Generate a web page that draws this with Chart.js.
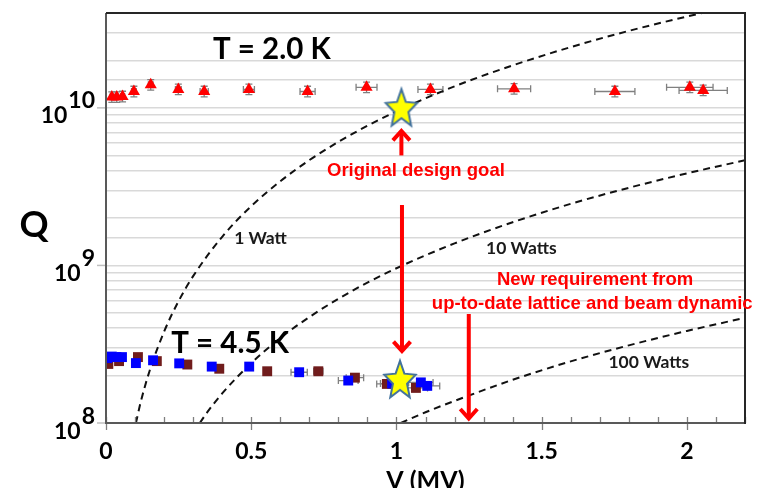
<!DOCTYPE html>
<html>
<head>
<meta charset="utf-8">
<script src="https://cdn.jsdelivr.net/npm/chart.js@4.4.1/dist/chart.umd.min.js"></script>
<style>
  html, body { margin: 0; padding: 0; background: #fff; overflow: hidden; }
  canvas { display: block; }
</style>
</head>
<body>
<canvas id="chart" width="770" height="488"></canvas>
<script>
// ---- Q0 vs accelerating voltage ----

// T = 2.0 K run (V in MV, Q0, horizontal error in MV, relative Q error)
const v2K  = [0.020, 0.037, 0.057, 0.096, 0.154, 0.249, 0.338, 0.492, 0.694, 0.897, 1.117, 1.405, 1.752, 2.010, 2.056];
const q2K  = [1.17e10, 1.17e10, 1.18e10, 1.27e10, 1.40e10, 1.31e10, 1.27e10, 1.31e10, 1.27e10, 1.35e10, 1.31e10, 1.32e10, 1.27e10, 1.35e10, 1.29e10];
const dv2K = [0.006, 0.006, 0.007, 0.008, 0.008, 0.010, 0.014, 0.019, 0.026, 0.036, 0.043, 0.057, 0.069, 0.080, 0.083];
const dq2K = [0.08, 0.08, 0.08, 0.08, 0.08, 0.08, 0.08, 0.08, 0.08, 0.08, 0.08, 0.08, 0.08, 0.08, 0.08];

// T = 4.5 K, first run (blue)
const v45a  = [0.004, 0.020, 0.036, 0.055, 0.103, 0.162, 0.252, 0.364, 0.493, 0.665, 0.834, 0.985, 1.084, 1.106];
const q45a  = [2.58e8, 2.64e8, 2.62e8, 2.62e8, 2.40e8, 2.50e8, 2.39e8, 2.28e8, 2.28e8, 2.10e8, 1.86e8, 1.78e8, 1.81e8, 1.72e8];
const dv45a = [0.003, 0.003, 0.003, 0.003, 0.005, 0.006, 0.008, 0.010, 0.012, 0.028, 0.034, 0.040, 0.042, 0.043];

// T = 4.5 K, second run (dark red)
const v45b  = [0.008, 0.045, 0.110, 0.175, 0.280, 0.390, 0.555, 0.731, 0.857, 0.967, 1.067];
const q45b  = [2.37e8, 2.47e8, 2.62e8, 2.47e8, 2.35e8, 2.21e8, 2.13e8, 2.13e8, 1.94e8, 1.77e8, 1.67e8];
const dv45b = [0.003, 0.003, 0.004, 0.005, 0.007, 0.009, 0.012, 0.016, 0.030, 0.035, 0.040];

// design targets
const goalV = [1.017, 1.012];
const goalQ = [9.8e9, 1.85e8];

// constant cryogenic-load lines
const v1W   = [0.103, 0.12, 0.15, 0.2, 0.25, 0.3, 0.4, 0.5, 0.6, 0.7, 0.8, 0.9, 1.0, 1.2, 1.4, 1.6, 1.8, 2.0, 2.06];
const q1W   = [1.0e8, 1.37e8, 2.14e8, 3.8e8, 5.94e8, 8.55e8, 1.52e9, 2.38e9, 3.42e9, 4.66e9, 6.08e9, 7.7e9, 9.5e9, 1.37e10, 1.86e10, 2.43e10, 3.08e10, 3.8e10, 4.03e10];
const v10W  = [0.323, 0.35, 0.4, 0.5, 0.6, 0.7, 0.8, 0.9, 1.0, 1.2, 1.4, 1.6, 1.8, 2.0, 2.2];
const q10W  = [1.0e8, 1.18e8, 1.54e8, 2.4e8, 3.46e8, 4.7e8, 6.14e8, 7.78e8, 9.6e8, 1.38e9, 1.88e9, 2.46e9, 3.11e9, 3.84e9, 4.65e9];
const v100W = [1.015, 1.1, 1.2, 1.4, 1.6, 1.8, 2.0, 2.2];
const q100W = [1.0e8, 1.17e8, 1.38e8, 1.88e8, 2.46e8, 3.11e8, 3.84e8, 4.65e8];

// axis labelling
const xLabelled = [0, 0.5, 1, 1.5, 2];
const yDecades  = [1e8, 1e9, 1e10];

// text notes anchored in data space (V, Q at the text centre)
const notes = [
  { text: 'T = 2.0 K', v: 0.571, q: 2.38e10, kind: 'temp' },
  { text: 'T = 4.5 K', v: 0.427, q: 3.23e8, kind: 'temp' },
  { text: '1 Watt', v: 0.532, q: 1.49e9, kind: 'load' },
  { text: '10 Watts', v: 1.43, q: 1.30e9, kind: 'load' },
  { text: '100 Watts', v: 1.869, q: 2.45e8, kind: 'load' },
  { text: 'Original design goal', v: 1.067, q: 4.09e9, kind: 'red' },
  { text: 'New requirement from', v: 1.684, q: 8.32e8, kind: 'red' },
  { text: 'up-to-date lattice and beam dynamic', v: 1.674, q: 5.8e8, kind: 'red' }
];

// arrows: V position, start Q, tip Q
const arrows = [
  { v: 1.017, from: 4.99e9, to: 7.3e9 },
  { v: 1.019, from: 2.42e9, to: 2.8e8 },
  { v: 1.249, from: 4.92e8, to: 1.045e8 }
];

const pts = (xs, ys) => xs.map((x, i) => ({ x: x, y: ys[i] }));

// five-pointed star marker
const starMarker = (() => {
  const R = 16.5, sy = 1.22, inner = 0.45;
  const c = document.createElement('canvas');
  c.width = 40; c.height = 48;
  const g = c.getContext('2d');
  const cx = c.width / 2, cy = c.height / 2;
  g.beginPath();
  for (let i = 0; i < 10; i++) {
    const a = -Math.PI / 2 + i * Math.PI / 5;
    const r = i % 2 === 0 ? R : R * inner;
    const px = cx + r * Math.cos(a), py = cy + sy * r * Math.sin(a);
    if (i === 0) g.moveTo(px, py); else g.lineTo(px, py);
  }
  g.closePath();
  g.fillStyle = '#ffff00';
  g.fill();
  g.lineWidth = 2;
  g.lineJoin = 'miter';
  g.strokeStyle = '#41719c';
  g.stroke();
  return c;
})();

const errorSeries = [
  { v: v2K, q: q2K, dv: dv2K, dq: dq2K },
  { v: v45b, q: q45b, dv: dv45b },
  { v: v45a, q: q45a, dv: dv45a }
];

const errorBars = {
  id: 'errorBars',
  beforeDatasetsDraw(chart) {
    const { ctx, scales: { x, y } } = chart;
    ctx.save();
    ctx.strokeStyle = '#808080';
    ctx.lineWidth = 1.3;
    const cap = 3.5;
    errorSeries.forEach(s => {
      s.v.forEach((v, i) => {
        const py = y.getPixelForValue(s.q[i]);
        const px = x.getPixelForValue(v);
        const pl = x.getPixelForValue(v - s.dv[i]);
        const pr = x.getPixelForValue(v + s.dv[i]);
        ctx.beginPath();
        ctx.moveTo(pl, py); ctx.lineTo(pr, py);
        ctx.moveTo(pl, py - cap); ctx.lineTo(pl, py + cap);
        ctx.moveTo(pr, py - cap); ctx.lineTo(pr, py + cap);
        if (s.dq) {
          const pt = y.getPixelForValue(s.q[i] * (1 + s.dq[i]));
          const pb = y.getPixelForValue(s.q[i] / (1 + s.dq[i]));
          ctx.moveTo(px, pt); ctx.lineTo(px, pb);
          ctx.moveTo(px - cap, pt); ctx.lineTo(px + cap, pt);
          ctx.moveTo(px - cap, pb); ctx.lineTo(px + cap, pb);
        }
        ctx.stroke();
      });
    });
    ctx.restore();
  }
};

function drawArrow(ctx, x, y1, y2) {
  const dir = y2 > y1 ? 1 : -1;
  ctx.beginPath();
  ctx.moveTo(x, y1);
  ctx.lineTo(x, y2 - dir * 2);
  ctx.stroke();
  ctx.beginPath();
  ctx.moveTo(x - 8.5, y2 - dir * 11);
  ctx.lineTo(x, y2 - dir * 1.5);
  ctx.lineTo(x + 8.5, y2 - dir * 11);
  ctx.stroke();
}

const decorations = {
  id: 'decorations',
  afterDraw(chart) {
    const { ctx, chartArea: a, scales: { x, y } } = chart;
    ctx.save();

    // x tick marks: minor every 0.1 (inside), major every 0.5 crossing the axis
    ctx.strokeStyle = '#7f7f7f';
    ctx.lineWidth = 1.3;
    x.ticks.forEach(t => {
      const px = Math.round(x.getPixelForValue(t.value)) + 0.5;
      const major = Math.round(t.value * 10) % 5 === 0;
      ctx.beginPath();
      ctx.moveTo(px, a.bottom - 6);
      ctx.lineTo(px, a.bottom + (major ? 7 : 0));
      ctx.stroke();
    });

    // y decade tick marks and labels
    ctx.strokeStyle = '#bfbfbf';
    ctx.lineWidth = 1.5;
    ctx.fillStyle = '#000';
    ctx.textAlign = 'left';
    ctx.textBaseline = 'alphabetic';
    yDecades.forEach(d => {
      const py = y.getPixelForValue(d);
      ctx.beginPath();
      ctx.moveTo(a.left - 9, py); ctx.lineTo(a.left, py);
      ctx.stroke();
      const exp = String(Math.round(Math.log10(d)));
      ctx.font = 'bold 23px Lato';
      const wb = ctx.measureText('10').width;
      const ws = ctx.measureText(exp).width;
      const right = a.left - 11;
      ctx.fillText(exp, right - ws, py + 0.5);
      ctx.fillText('10', right - ws - wb - 1, py + 15.5);
    });

    // axis frame
    ctx.lineWidth = 2;
    ctx.strokeStyle = '#595959';
    ctx.beginPath();
    ctx.moveTo(a.left, a.top); ctx.lineTo(a.left, a.bottom); ctx.lineTo(a.right, a.bottom);
    ctx.stroke();
    ctx.strokeStyle = '#262626';
    ctx.beginPath();
    ctx.moveTo(a.left, a.top); ctx.lineTo(a.right, a.top); ctx.lineTo(a.right, a.bottom + 1);
    ctx.stroke();

    // axis titles
    ctx.fillStyle = '#000';
    ctx.textAlign = 'center';
    ctx.font = 'bold 36px Lato';
    ctx.fillText('Q', 34, 237);
    ctx.font = 'bold 25px Lato';
    ctx.fillText('V (MV)', (a.left + a.right) / 2, 489);

    // notes
    notes.forEach(n => {
      const px = x.getPixelForValue(n.v);
      const py = y.getPixelForValue(n.q);
      let size;
      if (n.kind === 'temp') { size = 29.5; ctx.font = 'bold 29.5px Lato'; ctx.fillStyle = '#000'; }
      else if (n.kind === 'load') { size = 17.5; ctx.font = 'bold 17.5px Lato'; ctx.fillStyle = '#1a1a1a'; }
      else { size = 18.5; ctx.font = 'bold 18.5px "Liberation Sans"'; ctx.fillStyle = '#ff0000'; }
      ctx.fillText(n.text, px, py + 0.36 * size);
    });

    // arrows
    ctx.strokeStyle = '#ff0000';
    ctx.lineWidth = 4;
    ctx.lineJoin = 'miter';
    ctx.lineCap = 'butt';
    arrows.forEach(r => {
      drawArrow(ctx, x.getPixelForValue(r.v), y.getPixelForValue(r.from), y.getPixelForValue(r.to));
    });

    ctx.restore();
  }
};

const dashed = { showLine: true, borderColor: '#111', borderWidth: 2, borderDash: [7, 5], pointRadius: 0, fill: false, cubicInterpolationMode: 'monotone', order: 5 };

new Chart(document.getElementById('chart'), {
  type: 'scatter',
  data: {
    datasets: [
      Object.assign({ label: '1 Watt', data: pts(v1W, q1W) }, dashed),
      Object.assign({ label: '10 Watts', data: pts(v10W, q10W) }, dashed),
      Object.assign({ label: '100 Watts', data: pts(v100W, q100W) }, dashed),
      { label: '4.5 K run 2', data: pts(v45b, q45b), pointStyle: 'rect', pointRadius: 7, backgroundColor: '#701c1c', borderWidth: 0, order: 4 },
      { label: '4.5 K run 1', data: pts(v45a, q45a), pointStyle: 'rect', pointRadius: 7, backgroundColor: '#0000ff', borderWidth: 0, order: 3 },
      { label: '2.0 K', data: pts(v2K, q2K), pointStyle: 'triangle', pointRadius: 7, backgroundColor: '#ff0000', borderWidth: 0, order: 2 },
      { label: 'Design goal', data: pts(goalV, goalQ), pointStyle: starMarker, pointRadius: 12, order: 1 }
    ]
  },
  options: {
    responsive: false,
    animation: false,
    events: [],
    layout: { padding: { top: 9, right: 25, left: 0, bottom: 0 } },
    plugins: { legend: { display: false }, tooltip: { enabled: false } },
    scales: {
      x: {
        type: 'linear', min: 0, max: 2.2,
        grid: { display: false, drawTicks: false },
        border: { display: false },
        ticks: {
          stepSize: 0.1, autoSkip: false, maxRotation: 0, padding: 15, color: '#000',
          font: { family: 'Lato', size: 23, weight: 'bold' },
          callback: v => xLabelled.some(t => Math.abs(t - v) < 1e-6) ? String(Math.round(v * 10) / 10) : ''
        },
        afterFit: s => { s.height = 65; }
      },
      y: {
        type: 'logarithmic', min: 1e8, max: 4e10,
        grid: { color: '#d9d9d9', lineWidth: 1.5, drawTicks: false },
        border: { display: false },
        ticks: { display: false, autoSkip: false },
        afterFit: s => { s.width = 106; }
      }
    }
  },
  plugins: [errorBars, decorations]
});
</script>
</body>
</html>
